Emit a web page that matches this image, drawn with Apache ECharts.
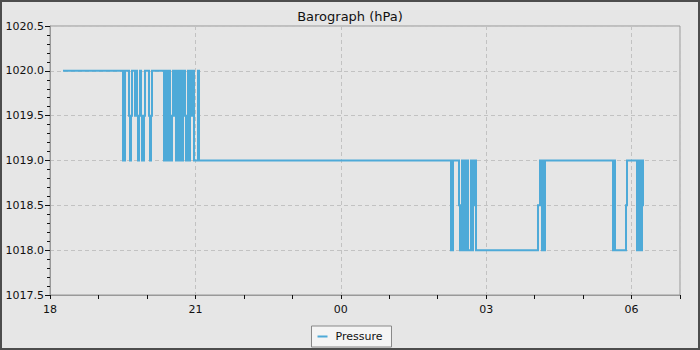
<!DOCTYPE html>
<html><head><meta charset="utf-8">
<script src="https://cdn.jsdelivr.net/npm/echarts@6/dist/echarts.min.js"></script>
<style>
html,body{margin:0;padding:0;background:#e6e6e6;}
#c{width:696px;height:346px;border:2px solid #4d4d4d;background:#e6e6e6;}
</style>
</head><body><div id="c"></div>
<script>
// Clock time of each change of the trace (evening -> next morning) and the pressure held from then
const times = [
 '18:16:06','19:30:23','19:32:51','19:37:49','19:39:03','19:40:17','19:41:31',
 '19:45:14','19:46:29','19:47:43','19:48:57','19:50:11','19:51:26','19:52:40','19:53:54',
 '19:56:23','19:57:37',
 '20:02:34','20:03:49','20:05:03','20:06:17',
 '20:21:09','20:23:37','20:24:51','20:26:06','20:27:20','20:28:34','20:29:49','20:31:03',
 '20:32:17','20:33:31','20:34:46','20:36:00','20:37:14','20:38:29','20:39:43','20:40:57',
 '20:42:11','20:43:26','20:44:40','20:45:54','20:47:09','20:48:23','20:49:37','20:50:51',
 '20:52:06','20:53:20','20:54:34','20:55:49','20:58:17','21:03:14','21:04:29',
 '02:16:29','02:18:57','02:26:23','02:27:37','02:28:51','02:30:06','02:31:20','02:32:34',
 '02:33:49','02:36:17','02:37:31','02:41:14','02:42:29','02:43:43','02:44:57','02:46:11',
 '02:47:26',
 '04:04:11','04:06:40','04:09:09','04:10:23','04:11:37','04:12:51',
 '05:37:03','05:38:17','05:39:31','05:53:09','05:54:23',
 '06:06:46','06:09:14','06:10:29','06:11:43','06:12:57','06:14:11','06:15:26'
];
const pressure = [
 1020,1019,1020,1019.5,1019,1019.5,1020,
 1019.5,1020,1019.5,1019,1019.5,1020,1019.5,1019,
 1019.5,1020,
 1019.5,1019,1019.5,1020,
 1019,1020,1019.5,1019,1020,1019.5,1019,1019.5,
 1020,1019.5,1020,1019,1019.5,1020,1019,1019.5,
 1020,1019,1019.5,1020,1019.5,1019,1019.5,1020,
 1019,1020,1019.5,1020,1019,1020,1019,
 1018,1019,1018.5,1018,1018.5,1019,1018,1019,
 1018,1019,1018,1019,1018,1019,1018.5,1019,
 1018,
 1018.5,1019,1018,1019,1018,1019,
 1018,1019,1018,1018.5,1019,
 1018,1019,1018.5,1018,1019,1018.5,1018.5
];
const startHour = 18;
const xTickLabels = ['18','21','00','03','06'];
const xLabelHours = [0,3,6,9,12];      // hours after start
const yTickLabels = ['1017.5','1018.0','1018.5','1019.0','1019.5','1020.0','1020.5'];

function toMinutes(t){
  const [h,m,s] = t.split(':').map(Number);
  return ((h - startHour + 24) % 24) * 60 + m + (s||0)/60;
}
// barograph trace: each value is held until the next change
const seriesData = [];
times.forEach((t,i)=>{
  const x = toMinutes(t);
  if(i>0) seriesData.push([x, pressure[i-1]]);
  seriesData.push([x, pressure[i]]);
});
const hourTicks = []; for(let h=0;h<=13;h++) hourTicks.push(h*60);
const labelVals = xLabelHours.map(h=>h*60);

const chart = echarts.init(document.getElementById('c'), null, {renderer:'svg'});
chart.setOption({
  animation:false,
  backgroundColor:'#e6e6e6',
  title:{text:'Barograph (hPa)',left:'center',top:3,
    textStyle:{fontFamily:'DejaVu Sans',fontSize:13,fontWeight:'normal',color:'#111'}},
  legend:{data:['Pressure'],bottom:1,left:'center',
    backgroundColor:'#f4f4f4',borderColor:'#888',borderWidth:1,borderRadius:0,
    padding:[5,9,5,6],itemWidth:10,itemHeight:2,itemGap:10,icon:'rect',
    textStyle:{fontFamily:'DejaVu Sans',fontSize:11,color:'#111',padding:[0,0,0,3]}},
  grid:{left:48,right:18,top:24,bottom:53,show:true,borderColor:'#999',borderWidth:1,
    backgroundColor:'transparent',containLabel:false},
  xAxis:[{type:'value',min:0,max:780,interval:180,position:'bottom',
    axisLine:{show:true,lineStyle:{color:'#999',width:1}},
    axisTick:{show:true,length:4,lineStyle:{color:'#111'},customValues:hourTicks},
    axisLabel:{customValues:labelVals,margin:9,fontFamily:'DejaVu Sans',fontSize:11,color:'#111',
      formatter:v=>xTickLabels[labelVals.indexOf(v)] ?? ''},
    splitLine:{show:false}},
   {type:'value',min:0,max:780,interval:180,position:'top',
    axisLine:{show:false},axisTick:{show:false},axisLabel:{show:false},
    splitLine:{show:true,lineStyle:{color:'#c2c2c2',type:[4,3],width:1}}}],
  yAxis:{type:'value',min:1017.5,max:1020.5,interval:0.5,
    axisLine:{show:true,lineStyle:{color:'#999',width:1}},
    axisTick:{show:true,length:5,lineStyle:{color:'#111'}},
    minorTick:{show:true,splitNumber:5,length:3,lineStyle:{color:'#111'}},
    axisLabel:{margin:6,fontFamily:'DejaVu Sans',fontSize:11,color:'#111',
      formatter:v=>yTickLabels[Math.round((v-1017.5)/0.5)] ?? v.toFixed(1)},
    splitLine:{show:true,lineStyle:{color:'#c2c2c2',type:[4,3],width:1}}},
  series:[{name:'Pressure',type:'line',xAxisIndex:0,data:seriesData,showSymbol:false,
    sampling:null,lineStyle:{color:'#4eaad8',width:2,join:'miter',cap:'butt'},itemStyle:{color:'#4eaad8'}}]
});
</script></body></html>
